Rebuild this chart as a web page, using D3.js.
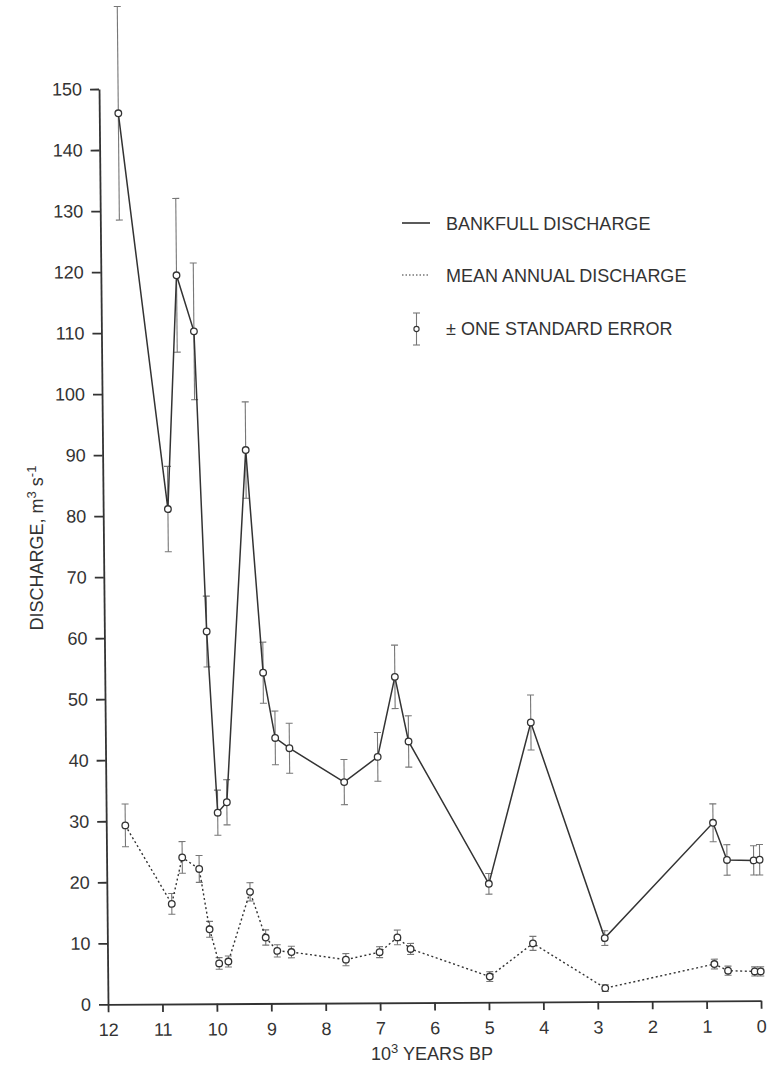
<!DOCTYPE html>
<html lang="en">
  <head>
    <meta charset="utf-8">
    <title>Discharge vs years BP</title>
    <style>
      body { margin: 0; background: #fff; }
      svg text { font-family: "Liberation Sans", Arial, Helvetica, sans-serif; fill: #333; }
    </style>
  </head>
  <body>
    <svg class="chart"></svg>

    <script src="https://d3js.org/d3.v7.min.js"></script>
    <script type="text/javascript">
      // ages in 10^3 years BP, shared by both series
      var ages = [11.65, 10.81, 10.61, 10.30, 10.12, 9.95, 9.78, 9.37, 9.09, 8.88, 8.62,
                  7.62, 7.00, 6.67, 6.43, 4.98, 4.18, 2.86, 0.85, 0.60, 0.11, 0.00];
      var bankfull = [146.0, 81.1, 119.4, 110.2, 61.0, 31.3, 33.0, 90.7, 54.2, 43.5, 41.8,
                      36.2, 40.3, 53.4, 42.8, 19.4, 45.8, 10.4, 29.2, 23.1, 23.0, 23.1];
      var bankfullErr = [17.5, 7.0, 12.6, 11.2, 5.8, 3.7, 3.7, 7.9, 5.0, 4.4, 4.1,
                         3.7, 4.0, 5.2, 4.2, 1.7, 4.5, 1.2, 3.1, 2.5, 2.4, 2.5];
      var meanAnnual = [29.3, 16.4, 24.0, 22.1, 12.2, 6.6, 6.9, 18.3, 10.8, 8.6, 8.4,
                        7.1, 8.3, 10.7, 8.8, 4.2, 9.6, 2.2, 6.05, 4.95, 4.8, 4.8];
      var meanAnnualErr = [3.5, 1.7, 2.6, 2.2, 1.3, 0.95, 0.9, 1.5, 1.25, 1.0, 0.95,
                           1.0, 0.9, 1.2, 0.9, 0.8, 1.15, 0.55, 0.8, 0.75, 0.75, 0.75];
      var xTicks = [12, 11, 10, 9, 8, 7, 6, 5, 4, 3, 2, 1, 0];
      var yTicks = [0, 10, 20, 30, 40, 50, 60, 70, 80, 90, 100, 110, 120, 130, 140, 150];
      var legendLabels = ['BANKFULL DISCHARGE', 'MEAN ANNUAL DISCHARGE', '\u00b1 ONE STANDARD ERROR'];

      var w = 778;
      var h = 1065;
      var ink = '#333';
      var errInk = '#777';

      var svg = d3.select('.chart')
                  .attr('width', w)
                  .attr('height', h);

      var x = d3.scaleLinear().domain([12, 0]).range([108, 761]);
      var y = d3.scaleLinear().domain([0, 150]).range([1004.3, 89]);

      // the printed figure sits slightly skewed on the page
      var k1 = 0.0098, k2 = 0.0055;
      var plot = svg.append('g')
                    .attr('transform', 'matrix(1,' + (-k2) + ',' + k1 + ',1,' + (-k1 * 1004.3) + ',' + (k2 * 108) + ')');

      var xAxis = d3.axisBottom(x).tickValues(xTicks).tickSize(8).tickSizeOuter(0).tickPadding(11);
      var yAxis = d3.axisLeft(y).tickValues(yTicks).tickSize(9).tickSizeOuter(0).tickPadding(8);

      var gx = plot.append('g').attr('transform', 'translate(0,' + y(0) + ')').call(xAxis);
      var gy = plot.append('g').attr('transform', 'translate(' + x(12) + ',0)').call(yAxis);

      [gx, gy].forEach(function(g) {
        g.selectAll('path, line').attr('stroke', ink).attr('stroke-width', 1.8);
        g.selectAll('text').attr('font-size', 18).attr('fill', ink)
         .style('font-family', '"Liberation Sans", Arial, Helvetica, sans-serif');
      });

      function drawSeries(values, errs, dash) {
        var pts = ages.map(function(a, i) {
          return { age: a, v: values[i], e: errs[i] };
        });

        var line = d3.line()
                     .x(function(d) { return x(d.age); })
                     .y(function(d) { return y(d.v); });

        var bars = plot.append('g');
        bars.selectAll('line.stem')
            .data(pts)
            .enter()
            .append('line')
            .attr('x1', function(d) { return x(d.age); })
            .attr('x2', function(d) { return x(d.age); })
            .attr('y1', function(d) { return y(d.v + d.e); })
            .attr('y2', function(d) { return y(d.v - d.e); })
            .attr('stroke', errInk)
            .attr('stroke-width', 1.1);
        ['+', '-'].forEach(function(s) {
          bars.selectAll('line.cap' + (s === '+' ? 'Top' : 'Bot'))
              .data(pts)
              .enter()
              .append('line')
              .attr('x1', function(d) { return x(d.age) - 3.5; })
              .attr('x2', function(d) { return x(d.age) + 3.5; })
              .attr('y1', function(d) { return y(s === '+' ? d.v + d.e : d.v - d.e); })
              .attr('y2', function(d) { return y(s === '+' ? d.v + d.e : d.v - d.e); })
              .attr('stroke', errInk)
              .attr('stroke-width', 1.1);
        });

        plot.append('path')
            .datum(pts)
            .attr('d', line)
            .attr('fill', 'none')
            .attr('stroke', ink)
            .attr('stroke-width', dash ? 1.4 : 1.5)
            .attr('stroke-dasharray', dash ? '2,2.6' : null);

        plot.append('g')
            .selectAll('circle')
            .data(pts)
            .enter()
            .append('circle')
            .attr('cx', function(d) { return x(d.age); })
            .attr('cy', function(d) { return y(d.v); })
            .attr('r', 3.3)
            .attr('fill', '#fff')
            .attr('stroke', ink)
            .attr('stroke-width', 1.3);
      }

      drawSeries(bankfull, bankfullErr, false);
      drawSeries(meanAnnual, meanAnnualErr, true);

      // axis titles
      var yt = svg.append('text')
                  .attr('transform', 'translate(43,548) rotate(-90)')
                  .attr('text-anchor', 'middle')
                  .attr('font-size', 18);
      yt.append('tspan').text('DISCHARGE, m');
      yt.append('tspan').attr('font-size', 13).attr('dy', -7).text('3');
      yt.append('tspan').attr('dy', 7).text(' s');
      yt.append('tspan').attr('font-size', 13).attr('dy', -7).text('-1');

      var xt = svg.append('text')
                  .attr('x', 432)
                  .attr('y', 1060)
                  .attr('text-anchor', 'middle')
                  .attr('font-size', 18);
      xt.append('tspan').text('10');
      xt.append('tspan').attr('font-size', 13).attr('dy', -7).text('3');
      xt.append('tspan').attr('dy', 7).text(' YEARS BP');

      // legend
      var leg = svg.append('g');
      leg.append('line').attr('x1', 402).attr('x2', 430).attr('y1', 223).attr('y2', 223)
         .attr('stroke', ink).attr('stroke-width', 1.6);
      leg.append('line').attr('x1', 402).attr('x2', 430).attr('y1', 275).attr('y2', 275)
         .attr('stroke', ink).attr('stroke-width', 1.2).attr('stroke-dasharray', '1.5,2');
      leg.append('line').attr('x1', 416.5).attr('x2', 416.5).attr('y1', 313).attr('y2', 345)
         .attr('stroke', errInk).attr('stroke-width', 1.1);
      leg.append('line').attr('x1', 413).attr('x2', 420).attr('y1', 313).attr('y2', 313)
         .attr('stroke', errInk).attr('stroke-width', 1.1);
      leg.append('line').attr('x1', 413).attr('x2', 420).attr('y1', 345).attr('y2', 345)
         .attr('stroke', errInk).attr('stroke-width', 1.1);
      leg.append('circle').attr('cx', 416.5).attr('cy', 329).attr('r', 2.6)
         .attr('fill', '#fff').attr('stroke', ink).attr('stroke-width', 1.1);

      leg.selectAll('text.lab')
         .data(legendLabels)
         .enter()
         .append('text')
         .attr('x', 446)
         .attr('y', function(d, i) { return [230, 282, 335][i]; })
         .attr('font-size', 18)
         .text(function(d) { return d; });
    </script>
  </body>
</html>
